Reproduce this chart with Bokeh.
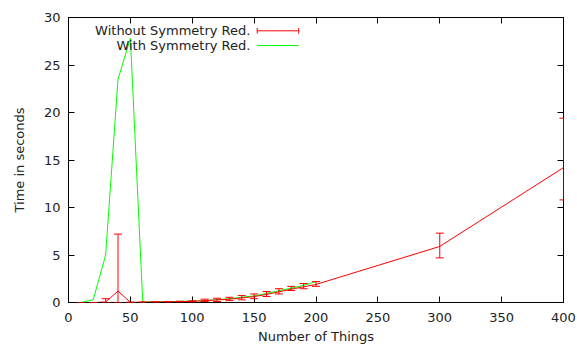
from bokeh.plotting import figure
from bokeh.models import (ColumnDataSource, Whisker, TeeHead, Range1d, LinearAxis,
                          SingleIntervalTicker, Label, CustomJSTickFormatter)
from bokeh.embed import file_html
from bokeh.resources import INLINE

# ---- data ----
red_x = [10, 20, 30, 40, 50, 60, 70, 80, 90, 100, 110, 120, 130, 140, 150, 160, 170, 180, 190, 200, 300, 400]
red_y = [0.0, 0.0, 0.05, 1.2, 0.02, 0.03, 0.05, 0.07, 0.09, 0.12, 0.2, 0.27, 0.35, 0.48, 0.62, 0.85, 1.12, 1.4, 1.65, 1.9, 5.9, 14.2]
red_lo = [0.0, 0.0, 0.0, 0.0, 0.0, 0.01, 0.02, 0.03, 0.05, 0.06, 0.1, 0.1, 0.2, 0.28, 0.4, 0.63, 0.9, 1.26, 1.45, 1.7, 4.7, 10.8]
red_hi = [0.0, 0.0, 0.4, 7.2, 0.04, 0.05, 0.08, 0.1, 0.13, 0.18, 0.35, 0.45, 0.55, 0.73, 0.9, 1.15, 1.45, 1.7, 2.0, 2.2, 7.3, 19.4]

green_x = [10, 20, 30, 40, 50, 60, 70, 80, 90, 100, 110, 120, 130, 140, 150, 160, 170, 180, 190, 200]
green_y = [0.0, 0.3, 5.0, 23.5, 27.8, 0.05, 0.07, 0.09, 0.12, 0.15, 0.2, 0.3, 0.4, 0.55, 0.7, 0.95, 1.25, 1.5, 1.8, 2.2]

series_names = ["Without Symmetry Red.", "With Symmetry Red."]
x_label = "Number of Things"
y_label = "Time in seconds"

RED = "#ff0000"
GREEN = "#00ff00"
FONT = "DejaVu Sans"
FS = "13px"

p = figure(frame_width=495, frame_height=285, output_backend="svg", toolbar_location=None,
           x_range=Range1d(0, 400), y_range=Range1d(0, 30),
           min_border_left=68, min_border_right=14, min_border_top=17, min_border_bottom=44)
p.xgrid.visible = False
p.ygrid.visible = False
p.outline_line_color = "black"
p.outline_line_width = 1
p.background_fill_color = "white"
p.border_fill_color = "white"

def style_axis(ax, ticker_interval, show_labels=True):
    ax.ticker = SingleIntervalTicker(interval=ticker_interval, num_minor_ticks=0)
    ax.major_tick_in = 6
    ax.major_tick_out = 0
    ax.minor_tick_in = 0
    ax.minor_tick_out = 0
    ax.axis_line_color = "black"
    ax.major_tick_line_color = "black"
    ax.major_label_text_font = FONT
    ax.major_label_text_font_size = FS
    ax.major_label_text_color = "#222222"
    ax.major_label_standoff = 8 if show_labels else 0
    ax.axis_label_text_font = FONT
    ax.axis_label_text_font_size = FS
    ax.axis_label_text_font_style = "normal"
    ax.axis_label_text_color = "#222222"
    if not show_labels:
        ax.formatter = CustomJSTickFormatter(code="return ''")

style_axis(p.xaxis[0], 50)
style_axis(p.yaxis[0], 5)
p.xaxis[0].axis_label = x_label
p.yaxis[0].axis_label = y_label
p.xaxis[0].major_label_standoff = 10
p.xaxis[0].axis_label_standoff = 4
p.yaxis[0].axis_label_standoff = 14

top = LinearAxis()
style_axis(top, 50, False)
p.add_layout(top, "above")
right = LinearAxis()
style_axis(right, 5, False)
p.add_layout(right, "right")

rsrc = ColumnDataSource(dict(x=red_x, y=red_y, lo=red_lo, hi=red_hi))
gsrc = ColumnDataSource(dict(x=green_x, y=green_y))

p.line("x", "y", source=gsrc, line_color=GREEN, line_width=1)
p.line("x", "y", source=rsrc, line_color=RED, line_width=1)
w = Whisker(base="x", lower="lo", upper="hi", source=rsrc, line_color=RED, line_width=1,
            level="overlay",
            upper_head=TeeHead(size=8, line_color=RED, line_width=1),
            lower_head=TeeHead(size=8, line_color=RED, line_width=1))
p.add_layout(w)

# ---- gnuplot-style key (label left, sample right) ----
key_text_x = 147
key_x0, key_x1 = 152.5, 186
key_rows = [28.6, 27.05]
for name, yy in zip(series_names, key_rows):
    p.add_layout(Label(x=key_text_x, y=yy, text=name, text_align="right", text_baseline="middle",
                       text_font=FONT, text_font_size=FS, text_color="#222222"))
p.segment(x0=[key_x0], y0=[key_rows[0]], x1=[key_x1], y1=[key_rows[0]], line_color=RED, line_width=1)
p.segment(x0=[key_x0, key_x1], y0=[key_rows[0] - 0.3] * 2, x1=[key_x0, key_x1], y1=[key_rows[0] + 0.3] * 2,
          line_color=RED, line_width=1)
p.segment(x0=[key_x0], y0=[key_rows[1]], x1=[key_x1], y1=[key_rows[1]], line_color=GREEN, line_width=1)

open("out.html", "w").write(file_html(p, INLINE))
